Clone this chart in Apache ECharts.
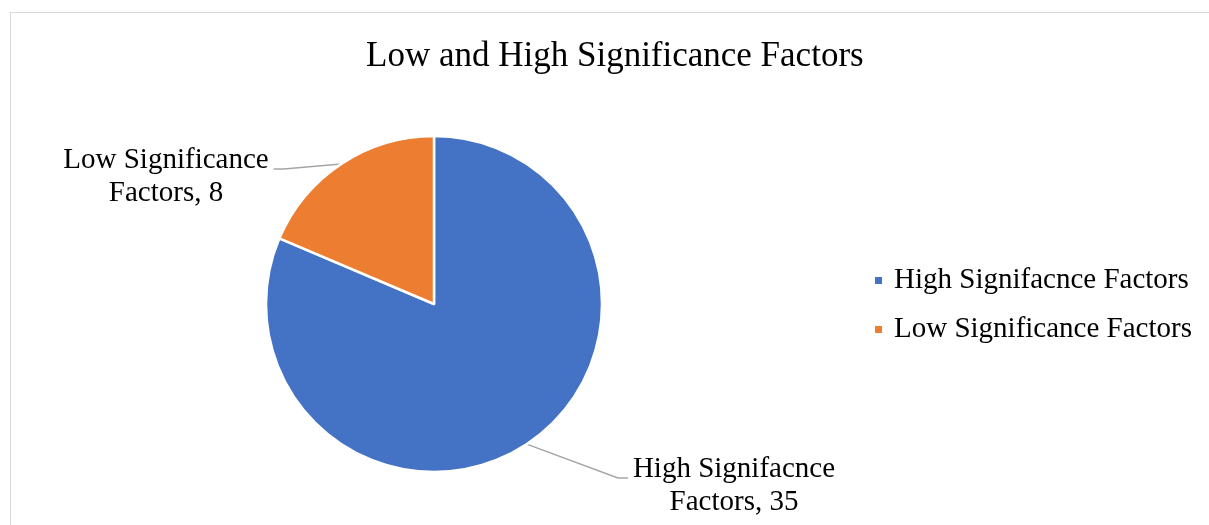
<!DOCTYPE html>
<html>
<head>
<meta charset="utf-8">
<title>Low and High Significance Factors</title>
<script src="https://cdn.jsdelivr.net/npm/echarts@6/dist/echarts.min.js"></script>
<style>
  html, body { margin: 0; padding: 0; background: #ffffff; overflow: hidden; }
  #frame {
    position: absolute; left: 10px; top: 12px; width: 1400px; height: 700px;
    border: 1.5px solid #d9d9d9; box-sizing: border-box;
  }
  #chart { position: absolute; left: 0; top: 0; width: 1209px; height: 525px; }
</style>
</head>
<body>
<div id="frame"></div>
<div id="chart"></div>
<script>
// Factor groups and how many factors fall into each
const categories = ['High Signifacnce Factors', 'Low Significance Factors'];
const values = [35, 8];
const colors = ['#4472c4', '#ed7d31'];
const labelLines = [['High Signifacnce', 'Factors'], ['Low Significance', 'Factors']];

const FONT = '"Liberation Serif", "Times New Roman", serif';

// where each data label block sits (centre of the text block) and which side the leader attaches to
const labelSpots = [
  { x: 734, y: 486, side: 'left' },
  { x: 166, y: 177, side: 'right' }
];

const chart = echarts.init(document.getElementById('chart'), null, { renderer: 'canvas' });

const data = categories.map((name, i) => ({
  name: name,
  value: values[i],
  itemStyle: { color: colors[i] },
  label: {
    formatter: labelLines[i][0] + '\n' + labelLines[i][1] + ', ' + values[i]
  }
}));

chart.setOption({
  animation: false,
  backgroundColor: 'transparent',
  title: {
    text: 'Low and High Significance Factors',
    left: 366,
    top: 39,
    padding: 0,
    textStyle: { fontFamily: FONT, fontSize: 35, fontWeight: 'normal', color: '#000000' }
  },
  legend: {
    orient: 'vertical',
    left: 873,
    top: 266,
    padding: 0,
    itemWidth: 9,
    itemHeight: 9,
    itemGap: 20,
    icon: 'rect',
    data: categories,
    textStyle: { fontFamily: FONT, fontSize: 29, color: '#000000', padding: [0, 0, 0, 6] }
  },
  series: [{
    type: 'pie',
    center: [434, 304],
    radius: [0, 168],
    startAngle: 90,
    clockwise: true,
    data: data,
    itemStyle: { borderColor: '#ffffff', borderWidth: 2.5 },
    label: {
      show: true,
      position: 'outside',
      fontFamily: FONT,
      fontSize: 29,
      lineHeight: 33,
      color: '#000000',
      align: 'center'
    },
    labelLine: {
      show: true,
      length: 20,
      length2: 10,
      lineStyle: { color: '#a6a6a6', width: 1.5 }
    },
    labelLayout: function (params) {
      const spot = labelSpots[params.dataIndex];
      const rect = params.labelRect;
      const start = params.labelLinePoints ? params.labelLinePoints[0] : null;
      const out = { x: spot.x, y: spot.y, align: 'center', verticalAlign: 'middle' };
      if (start) {
        const halfW = rect.width / 2;
        const lineY = spot.y - 8;
        const edgeX = spot.side === 'left' ? spot.x - halfW - 5 : spot.x + halfW + 5;
        const bendX = spot.side === 'left' ? edgeX - 10 : edgeX + 10;
        out.labelLinePoints = [start, [bendX, lineY], [edgeX, lineY]];
      }
      return out;
    }
  }]
});
</script>
</body>
</html>
